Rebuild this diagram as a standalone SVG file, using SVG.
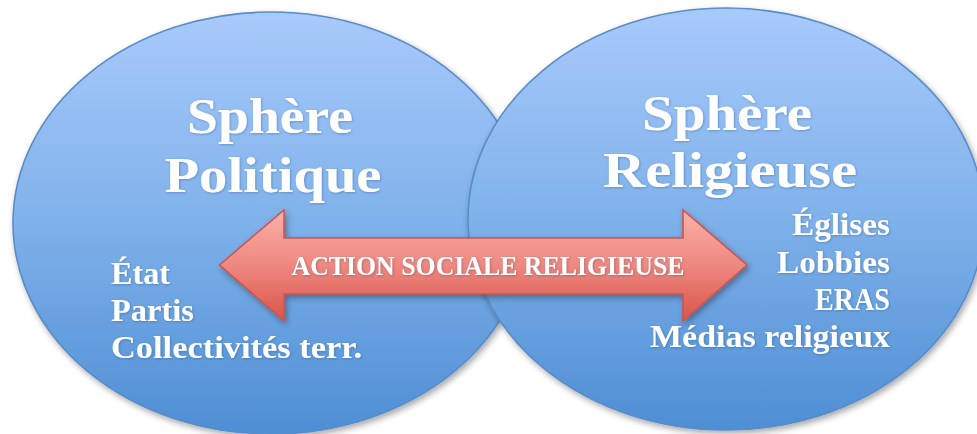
<svg xmlns="http://www.w3.org/2000/svg" width="977" height="434" viewBox="0 0 977 434">
  <defs>
    <linearGradient id="blue" x1="0" y1="0" x2="0" y2="1">
      <stop offset="0" stop-color="#A8CAFB"/>
      <stop offset="0.5" stop-color="#7FB1EA"/>
      <stop offset="1" stop-color="#4E8ED4"/>
    </linearGradient>
    <linearGradient id="red" x1="0" y1="0" x2="0" y2="1">
      <stop offset="0" stop-color="#FBB1A9"/>
      <stop offset="0.5" stop-color="#EE8880"/>
      <stop offset="1" stop-color="#D95449"/>
    </linearGradient>
    <filter id="shadow" x="-10%" y="-10%" width="120%" height="125%">
      <feDropShadow dx="2" dy="3" stdDeviation="3" flood-color="#000" flood-opacity="0.35"/>
    </filter>
    <filter id="tshadow" x="-5%" y="-20%" width="110%" height="140%">
      <feDropShadow dx="0.8" dy="0.8" stdDeviation="0.8" flood-color="#1a3a66" flood-opacity="0.35"/>
    </filter>
  </defs>
  <style>
    .sphere { fill: url(#blue); stroke: #5A8CC6; stroke-width: 1.6; filter: url(#shadow); }
    .title { font-family: "Liberation Serif", "DejaVu Serif", serif; font-weight: bold; font-size: 50px; fill: #FFFFFF; filter: url(#tshadow); }
    .item { font-family: "Liberation Serif", "DejaVu Serif", serif; font-weight: bold; font-size: 31px; fill: #FFFFFF; filter: url(#tshadow); }
    .arrow { fill: url(#red); stroke: #C9564F; stroke-width: 1.6; filter: url(#shadow); }
    .alabel { font-family: "Liberation Serif", "DejaVu Serif", serif; font-weight: bold; font-size: 27px; fill: #FFFFFF; filter: url(#tshadow); }
  </style>

  <g id="sphere-politique">
    <ellipse class="sphere" cx="271" cy="223" rx="258" ry="211"/>
    <text class="title" x="270" y="133" text-anchor="middle" textLength="166" lengthAdjust="spacingAndGlyphs">Sphère</text>
    <text class="title" x="273" y="192" text-anchor="middle" textLength="217" lengthAdjust="spacingAndGlyphs">Politique</text>
    <text class="item" x="111" y="284" textLength="59" lengthAdjust="spacingAndGlyphs">État</text>
    <text class="item" x="111" y="321" textLength="83" lengthAdjust="spacingAndGlyphs">Partis</text>
    <text class="item" x="111" y="358" textLength="251" lengthAdjust="spacingAndGlyphs">Collectivités terr.</text>
  </g>

  <g id="sphere-religieuse">
    <ellipse class="sphere" cx="726" cy="219" rx="258" ry="211"/>
    <text class="title" x="727" y="130" text-anchor="middle" textLength="170" lengthAdjust="spacingAndGlyphs">Sphère</text>
    <text class="title" x="730" y="187" text-anchor="middle" textLength="254" lengthAdjust="spacingAndGlyphs">Religieuse</text>
    <text class="item" x="890" y="235" text-anchor="end" textLength="98" lengthAdjust="spacingAndGlyphs">Églises</text>
    <text class="item" x="890" y="273" text-anchor="end" textLength="113" lengthAdjust="spacingAndGlyphs">Lobbies</text>
    <text class="item" x="890" y="310" text-anchor="end" textLength="75" lengthAdjust="spacingAndGlyphs">ERAS</text>
    <text class="item" x="890" y="347" text-anchor="end" textLength="240" lengthAdjust="spacingAndGlyphs">Médias religieux</text>
  </g>

  <g id="connectors">
    <path class="arrow" d="M219.5,265 L284,210 L284,238 L683,238 L683,210 L747,265 L683,321 L683,294 L284,294 L284,321 Z"/>
    <text class="alabel" x="488" y="275" text-anchor="middle" textLength="393" lengthAdjust="spacingAndGlyphs">ACTION SOCIALE RELIGIEUSE</text>
  </g>
</svg>
